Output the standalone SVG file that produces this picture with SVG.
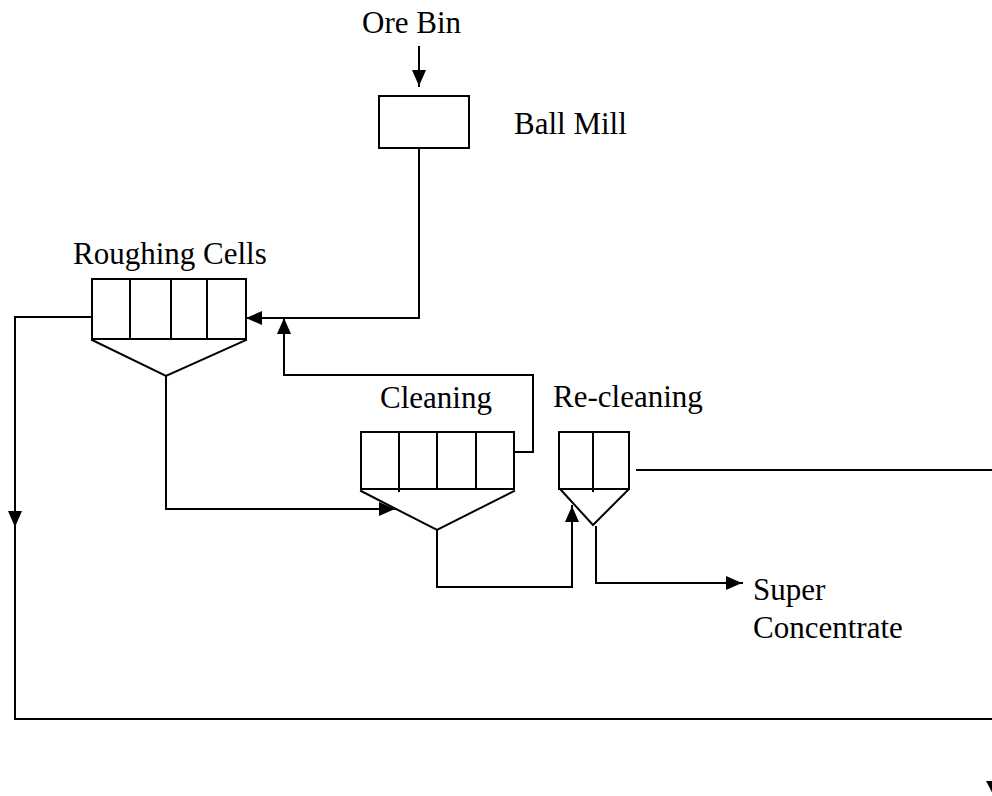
<svg xmlns="http://www.w3.org/2000/svg" width="992" height="796" viewBox="0 0 992 796">
<style>
.ln{fill:none;stroke:#000;stroke-width:2;stroke-linecap:square}
.bx{fill:#fff;stroke:#000;stroke-width:2}
.tx{font-family:"Liberation Serif","Times New Roman",serif;font-size:31px;fill:#000}
.ah{fill:#000}
</style>
<defs>
<marker id="arr" markerUnits="userSpaceOnUse" markerWidth="16" markerHeight="14" refX="16" refY="7" orient="auto">
<path d="M0,0 L16,7 L0,14 Z" class="ah"/>
</marker>
</defs>
<rect width="992" height="796" fill="#fff"/>

<g id="connectors">
<path class="ln" d="M419,47 V86" marker-end="url(#arr)"/>
<path class="ln" d="M419,148 V318 H246" marker-end="url(#arr)"/>
<path class="ln" d="M514,452 H533 V375 H284 V318" marker-end="url(#arr)"/>
<path class="ln" d="M92,317 H15 V527" marker-end="url(#arr)"/>
<path class="ln" d="M15,520 V719 H992"/>
<path class="ln" d="M166,376 V509 H395" marker-end="url(#arr)"/>
<path class="ln" d="M437,530 V587 H572 V506" marker-end="url(#arr)"/>
<path class="ln" d="M596,527 V583 H742" marker-end="url(#arr)"/>
<path class="ln" d="M637,470 H992"/>
<polygon class="ah" points="986,781 1004,781 995,798"/>
</g>

<g id="ore-bin">
<text class="tx" x="362" y="33">Ore Bin</text>
</g>

<g id="ball-mill">
<rect class="bx" x="379" y="96" width="90" height="52"/>
<text class="tx" x="514" y="134">Ball Mill</text>
</g>

<g id="roughing-cells">
<text class="tx" x="73" y="264">Roughing Cells</text>
<rect class="bx" x="92" y="279" width="154" height="60"/>
<path class="ln" d="M130,279 V339 M171,279 V339 M207,279 V339"/>
<path class="ln" d="M92,340 L166,376 L246,340"/>
</g>

<g id="cleaning">
<text class="tx" x="380" y="408">Cleaning</text>
<rect class="bx" x="361" y="432" width="153" height="57"/>
<path class="ln" d="M399,432 V491 M437,432 V489 M476,432 V489"/>
<path class="ln" d="M361,491 L437,530 L514,491"/>
</g>

<g id="re-cleaning">
<text class="tx" x="553" y="407">Re-cleaning</text>
<rect class="bx" x="559" y="432" width="70" height="57"/>
<path class="ln" d="M593,432 V491"/>
<path class="ln" d="M561,490 L593,525 L628,490"/>
</g>

<g id="super-concentrate">
<text class="tx" x="753" y="600">Super</text>
<text class="tx" x="753" y="638">Concentrate</text>
</g>
</svg>
